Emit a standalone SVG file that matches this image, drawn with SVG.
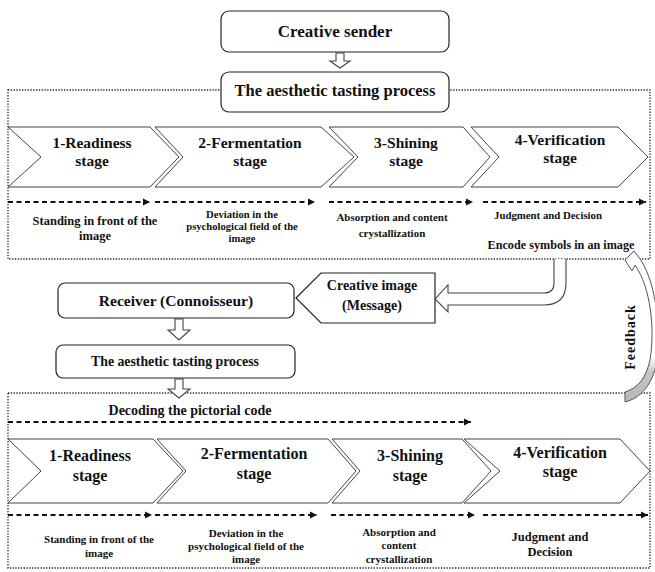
<svg xmlns="http://www.w3.org/2000/svg" width="655" height="572" viewBox="0 0 655 572">
<defs>
<style>
.t{font-family:"Liberation Serif","Times New Roman",serif;font-weight:bold;fill:#111;text-anchor:middle}
.box{fill:#fff;stroke:#222;stroke-width:1.2}
.chev{fill:#fff;stroke:#444;stroke-width:1}
.frame{fill:none;stroke:#222;stroke-width:1.3;stroke-dasharray:1.3 1.5}
.dash{fill:none;stroke:#111;stroke-width:2;stroke-dasharray:5 3.5}
.hollow{fill:#fff;stroke:#444;stroke-width:1.1}
</style>
<marker id="ah" markerUnits="userSpaceOnUse" markerWidth="8" markerHeight="8" refX="7" refY="4" orient="auto">
<path d="M0,0.5 L7,4 L0,7.5 z" fill="#111"/>
</marker>
<linearGradient id="fb" gradientUnits="userSpaceOnUse" x1="0" y1="250" x2="0" y2="403">
<stop offset="0.7" stop-color="#fff"/>
<stop offset="0.8" stop-color="#c4c4c4"/>
<stop offset="1" stop-color="#b8b8b8"/>
</linearGradient>
</defs>
<rect width="655" height="572" fill="#fff"/>

<g id="frames">
<rect class="frame" x="8" y="90" width="642" height="169"/>
<rect class="frame" x="8" y="393" width="642" height="175"/>
</g>

<g id="connectors">
<path class="hollow" d="M336,53 L344,53 L344,61 L350,61 L340,68 L330,61 L336,61 Z"/>
<path class="hollow" d="M175,319 L183,319 L183,330 L190,330 L179,340 L168,330 L175,330 Z"/>
<path class="hollow" d="M175,379 L183,379 L183,389 L190,389 L179,398 L168,389 L175,389 Z"/>
<path class="hollow" d="M554,259 L554,283 Q554,293 544,293 L448,293 L448,285 L435,299 L448,312 L448,305 L544,305 Q566,305 566,283 L566,259"/>
<path d="M625,260 L634,251 L637,255 C655,275 662,330 657,362 C652,385 641,398 625,402 L625,392 C638,388 646,378 650,360 C655,330 651,288 635,265 L632,271 Z" fill="url(#fb)" stroke="#555" stroke-width="1"/>
<line class="dash" x1="8" y1="202" x2="150" y2="202" marker-end="url(#ah)"/>
<line class="dash" x1="155" y1="202" x2="315" y2="202" marker-end="url(#ah)"/>
<line class="dash" x1="329" y1="202" x2="473" y2="202" marker-end="url(#ah)"/>
<line class="dash" x1="483" y1="202" x2="646" y2="202" marker-end="url(#ah)"/>
<line class="dash" x1="8" y1="422" x2="471" y2="422" marker-end="url(#ah)"/>
<line class="dash" x1="8" y1="515" x2="152" y2="515" marker-end="url(#ah)"/>
<line class="dash" x1="155" y1="515" x2="317" y2="515" marker-end="url(#ah)"/>
<line class="dash" x1="331" y1="515" x2="475" y2="515" marker-end="url(#ah)"/>
<line class="dash" x1="483" y1="515" x2="648" y2="515" marker-end="url(#ah)"/>
</g>

<g id="creative-sender">
<rect class="box" x="221" y="11" width="228" height="41" rx="8"/>
<text class="t" x="335" y="37" font-size="17">Creative sender</text>
</g>
<g id="process-top">
<rect class="box" x="221" y="72" width="228" height="40" rx="8"/>
<text class="t" x="335" y="96" font-size="16.5">The aesthetic tasting process</text>
</g>

<g id="stage1-top">
<path class="chev" d="M8,127 L150,127 L179,157 L150,187 L8,187 L41,157 Z"/>
<text class="t" x="92" y="148" font-size="15.5">1-Readiness</text>
<text class="t" x="92" y="166" font-size="15.5">stage</text>
</g>
<g id="stage2-top">
<path class="chev" d="M155,127 L321,127 L354,157 L321,187 L155,187 L183,157 Z"/>
<text class="t" x="250" y="148" font-size="15.5">2-Fermentation</text>
<text class="t" x="250" y="166" font-size="15.5">stage</text>
</g>
<g id="stage3-top">
<path class="chev" d="M329,127 L463,127 L490,157 L463,187 L329,187 L358,157 Z"/>
<text class="t" x="406" y="148" font-size="15.5">3-Shining</text>
<text class="t" x="406" y="166" font-size="15.5">stage</text>
</g>
<g id="stage4-top">
<path class="chev" d="M471,127 L618,127 L648,157 L618,187 L471,187 L499,157 Z"/>
<text class="t" x="560" y="145" font-size="15.5">4-Verification</text>
<text class="t" x="560" y="163" font-size="15.5">stage</text>
</g>

<g id="desc-top">
<text class="t" x="95" y="225" font-size="12.5">Standing in front of the</text>
<text class="t" x="95" y="240" font-size="12.5">image</text>
<text class="t" x="242" y="217.5" font-size="10.6">Deviation in the</text>
<text class="t" x="242" y="229.5" font-size="10.6">psychological field of the</text>
<text class="t" x="242" y="241.5" font-size="10.6">image</text>
<text class="t" x="392" y="221" font-size="11">Absorption and content</text>
<text class="t" x="392" y="237" font-size="11">crystallization</text>
<text class="t" x="548" y="219" font-size="10.8">Judgment and Decision</text>
<text class="t" x="561" y="249" font-size="12.2">Encode symbols in an image</text>
</g>

<g id="creative-image">
<path class="box" d="M296,298 L321,273 L435,273 L435,323 L321,323 Z"/>
<text class="t" x="372" y="290" font-size="14">Creative image</text>
<text class="t" x="372" y="310" font-size="14">(Message)</text>
</g>
<g id="receiver">
<rect class="box" x="58" y="283" width="236" height="35" rx="7"/>
<text class="t" x="176" y="306" font-size="15.5">Receiver (Connoisseur)</text>
</g>
<g id="process-bottom">
<rect class="box" x="56" y="345" width="239" height="33" rx="7"/>
<text class="t" x="175" y="366" font-size="13.8">The aesthetic tasting process</text>
</g>

<g id="feedback-label">
<text class="t" transform="translate(635,337) rotate(-90)" font-size="14" letter-spacing="1">Feedback</text>
</g>

<g id="decoding">
<text class="t" x="190" y="415" font-size="14">Decoding the pictorial code</text>
</g>

<g id="stage1-bottom">
<path class="chev" d="M8,439 L153,439 L183,471 L153,503 L8,503 L41,471 Z"/>
<text class="t" x="90" y="461" font-size="16">1-Readiness</text>
<text class="t" x="90" y="481" font-size="16">stage</text>
</g>
<g id="stage2-bottom">
<path class="chev" d="M157,439 L328,439 L356,471 L328,503 L157,503 L186,471 Z"/>
<text class="t" x="254" y="459" font-size="16">2-Fermentation</text>
<text class="t" x="254" y="479" font-size="16">stage</text>
</g>
<g id="stage3-bottom">
<path class="chev" d="M332,439 L462,439 L491,471 L462,503 L332,503 L360,471 Z"/>
<text class="t" x="410" y="461" font-size="16">3-Shining</text>
<text class="t" x="410" y="481" font-size="16">stage</text>
</g>
<g id="stage4-bottom">
<path class="chev" d="M464,439 L620,439 L650,471 L620,503 L464,503 L500,471 Z"/>
<text class="t" x="560" y="458" font-size="16">4-Verification</text>
<text class="t" x="560" y="477" font-size="16">stage</text>
</g>

<g id="desc-bottom">
<text class="t" x="99" y="543" font-size="11">Standing in front of the</text>
<text class="t" x="99" y="557" font-size="11">image</text>
<text class="t" x="246" y="537" font-size="11">Deviation in the</text>
<text class="t" x="246" y="550" font-size="11">psychological field of the</text>
<text class="t" x="246" y="563" font-size="11">image</text>
<text class="t" x="399" y="536" font-size="11">Absorption and</text>
<text class="t" x="399" y="549" font-size="11">content</text>
<text class="t" x="399" y="563" font-size="11">crystallization</text>
<text class="t" x="550" y="541" font-size="12.5">Judgment and</text>
<text class="t" x="550" y="556" font-size="12.5">Decision</text>
</g>
</svg>
